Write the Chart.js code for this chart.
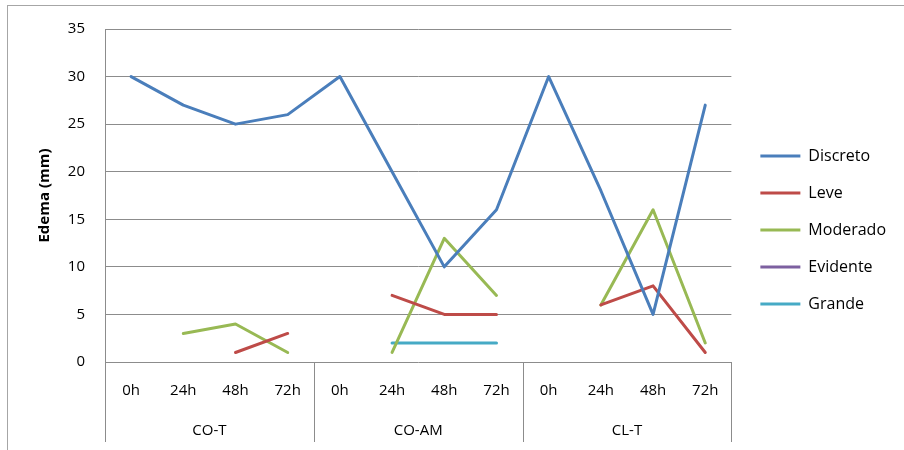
<!DOCTYPE html>
<html>
<head>
<meta charset="utf-8">
<script src="https://cdn.jsdelivr.net/npm/chart.js@4"></script>
<style>
  body { margin: 0; background: #fff; overflow: hidden; }
  #box { position: absolute; left: 0; top: 0; width: 904px; height: 450px; }
  #frame { position: absolute; left: 7px; top: 5px; width: 1000px; height: 1000px;
           border: 1px solid #a6a6a6; pointer-events: none; }
</style>
</head>
<body>
<div id="box"><canvas id="chart" width="904" height="450"></canvas></div>
<div id="frame"></div>
<script>
// categories
const hours = ["0h", "24h", "48h", "72h", "0h", "24h", "48h", "72h", "0h", "24h", "48h", "72h"];
const groups = ["CO-T", "CO-AM", "CL-T"];

// series values (mm)
const discreto = [30, 27, 25, 26, 30, 20, 10, 16, 30, 18, 5, 27];
const leve = [null, null, 1, 3, null, 7, 5, 5, null, 6, 8, 1];
const moderado = [null, 3, 4, 1, null, 1, 13, 7, null, 6, 16, 2];
const evidente = [null, null, null, null, null, null, null, null, null, null, null, null];
const grande = [null, null, null, null, null, 2, 2, 2, null, null, null, null];

const yTicks = [0, 5, 10, 15, 20, 25, 30, 35];

const FONT = "'Open Sans', sans-serif";
const GRID = "#8c8c8c";

function series(label, data, color) {
  return {
    label,
    data,
    borderColor: color,
    backgroundColor: color,
    borderWidth: 3,
    pointRadius: 0,
    pointHoverRadius: 0,
    borderJoinStyle: "round",
    borderCapStyle: "round",
    tension: 0,
    spanGaps: false,
  };
}

// group labels and separators under the hour axis
const groupAxis = {
  id: "groupAxis",
  afterDraw(chart) {
    const { ctx, chartArea, scales } = chart;
    const x = scales.x;
    const half = (x.getPixelForValue(1) - x.getPixelForValue(0)) / 2;
    const per = hours.length / groups.length;
    ctx.save();
    ctx.strokeStyle = GRID;
    ctx.lineWidth = 1;
    for (let g = 0; g <= groups.length; g++) {
      const px = g === 0
        ? x.getPixelForValue(0) - half
        : x.getPixelForValue(g * per - 1) + half;
      ctx.beginPath();
      ctx.moveTo(Math.round(px) + 0.5, chartArea.bottom);
      ctx.lineTo(Math.round(px) + 0.5, chartArea.bottom + 80);
      ctx.stroke();
    }
    ctx.fillStyle = "#000";
    ctx.font = "15px " + FONT;
    ctx.textAlign = "center";
    ctx.textBaseline = "middle";
    groups.forEach((name, g) => {
      const a = x.getPixelForValue(g * per);
      const b = x.getPixelForValue(g * per + per - 1);
      ctx.fillText(name, (a + b) / 2, chartArea.bottom + 69);
    });
    ctx.restore();
  },
};

// push the legend a little away from the plot
const legendGap = {
  id: "legendGap",
  afterLayout(chart) {
    if (chart.legend) {
      chart.legend.left += 8;
      chart.legend.right += 8;
    }
  },
};

new Chart(document.getElementById("chart"), {
  type: "line",
  data: {
    labels: hours,
    datasets: [
      series("Discreto", discreto, "#4a7ebb"),
      series("Leve", leve, "#be4b48"),
      series("Moderado", moderado, "#98b954"),
      series("Evidente", evidente, "#7d60a0"),
      series("Grande", grande, "#46aac5"),
    ],
  },
  options: {
    responsive: false,
    animation: false,
    events: [],
    layout: { padding: { left: 36, top: 28, right: 16, bottom: 18 } },
    plugins: {
      tooltip: { enabled: false },
      legend: {
        position: "right",
        labels: {
          boxWidth: 40,
          boxHeight: 3,
          padding: 21,
          color: "#000",
          font: { family: FONT, size: 16 },
          generateLabels(chart) {
            return chart.data.datasets.map((ds, i) => ({
              text: ds.label,
              fillStyle: ds.borderColor,
              strokeStyle: ds.borderColor,
              lineWidth: 0,
              hidden: false,
              datasetIndex: i,
            }));
          },
        },
      },
    },
    scales: {
      x: {
        type: "category",
        offset: true,
        grid: { display: false },
        border: { display: false },
        ticks: {
          color: "#000",
          font: { family: FONT, size: 15 },
          padding: 12,
          maxRotation: 0,
          autoSkip: false,
        },
        afterFit(scale) { scale.height = 70; },
      },
      y: {
        min: 0,
        max: 35,
        afterBuildTicks(scale) { scale.ticks = yTicks.map(v => ({ value: v })); },
        grid: { color: GRID, drawTicks: false },
        border: { display: true, color: GRID },
        ticks: {
          color: "#000",
          font: { family: FONT, size: 15 },
          padding: 20,
        },
        title: {
          display: true,
          text: "Edema (mm)",
          color: "#000",
          font: { family: FONT, size: 15, weight: "bold" },
          padding: 0,
        },
        afterFit(scale) { scale.width = 105 - 36; },
      },
    },
  },
  plugins: [groupAxis, legendGap],
});
</script>
</body>
</html>
